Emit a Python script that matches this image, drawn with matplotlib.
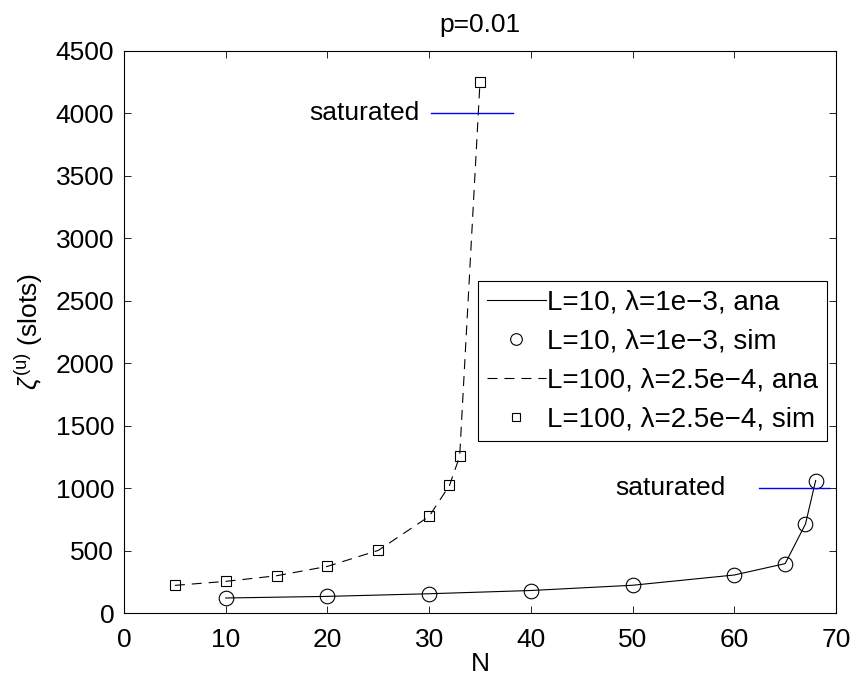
import matplotlib
matplotlib.use("Agg")
import matplotlib.pyplot as plt

plt.rcParams['font.family'] = ['Liberation Sans', 'DejaVu Sans']
plt.rcParams['font.size'] = 19
plt.rcParams['mathtext.fontset'] = 'custom'
plt.rcParams['mathtext.rm'] = 'Liberation Sans'
plt.rcParams['mathtext.it'] = 'Liberation Sans:italic'
plt.rcParams['lines.scale_dashes'] = False

# L=10, lambda=1e-3
n_small = [10, 20, 30, 40, 50, 60, 65, 67, 68]
ana_small = [120, 133, 154, 180, 222, 304, 395, 712, 1060]
sim_small = [120, 133, 154, 180, 222, 304, 395, 712, 1060]

# L=100, lambda=2.5e-4
n_big = [5, 10, 15, 20, 25, 30, 32, 33, 35]
ana_big = [221, 253, 298, 373, 501, 773, 1021, 1253, 4250]
sim_big = [221, 253, 298, 373, 501, 773, 1021, 1253, 4250]

# saturation markers: label right edge x, line x range, y
sat_text_x = [29.1, 59.1]
sat_line_x = [(30.2, 38.2), (62.4, 69.3)]
sat_y = [4000, 1000]

labels = ['L=10, λ=1e\u22123, ana', 'L=10, λ=1e\u22123, sim',
          'L=100, λ=2.5e\u22124, ana', 'L=100, λ=2.5e\u22124, sim']

fig = plt.figure(figsize=(8.57, 6.79), dpi=100)
ax = fig.add_axes([0.1447, 0.0972, 0.8308, 0.8284])

ax.plot(n_small, ana_small, color='black', lw=0.8, label=labels[0])
ax.plot(n_small, sim_small, ls='none', marker='o', ms=10.5, mfc='none',
        mec='black', mew=0.8, label=labels[1])
ax.plot(n_big, ana_big, color='black', lw=0.8, ls=(0, (7.2, 5.0)), label=labels[2])
ax.plot(n_big, sim_big, ls='none', marker='s', ms=7.7, mfc='none',
        mec='black', mew=0.8, label=labels[3])

for tx, (x0, x1), y in zip(sat_text_x, sat_line_x, sat_y):
    ax.plot([x0, x1], [y, y], color='blue', lw=1.0)
    ax.text(tx, y, 'saturated', ha='right', va='center')

ax.set_xlim(0, 70)
ax.set_ylim(0, 4500)
ax.set_xticks(range(0, 71, 10))
ax.set_yticks(range(0, 4501, 500))
ax.tick_params(direction='in', length=5, width=0.6, top=True, right=True)
ax.tick_params(axis='y', pad=7)
ax.tick_params(axis='x', pad=11)
for s in ax.spines.values():
    s.set_linewidth(0.8)

ax.set_xlabel('N', labelpad=0)
ax.set_ylabel(r'$\zeta^{\mathrm{(u)}}$ (slots)', labelpad=8)
ax.set_title('p=0.01', pad=13, fontsize=19)

leg = ax.legend(loc='upper left', bbox_to_anchor=(0.4976, 0.5908), borderaxespad=0,
                fancybox=False, framealpha=1, edgecolor='black', borderpad=0.31,
                labelspacing=0.47, handlelength=2.12, handletextpad=0.05,
                markerscale=0.8, fontsize=20)
leg.get_frame().set_linewidth(0.8)

fig.savefig('out.png', dpi=100)
